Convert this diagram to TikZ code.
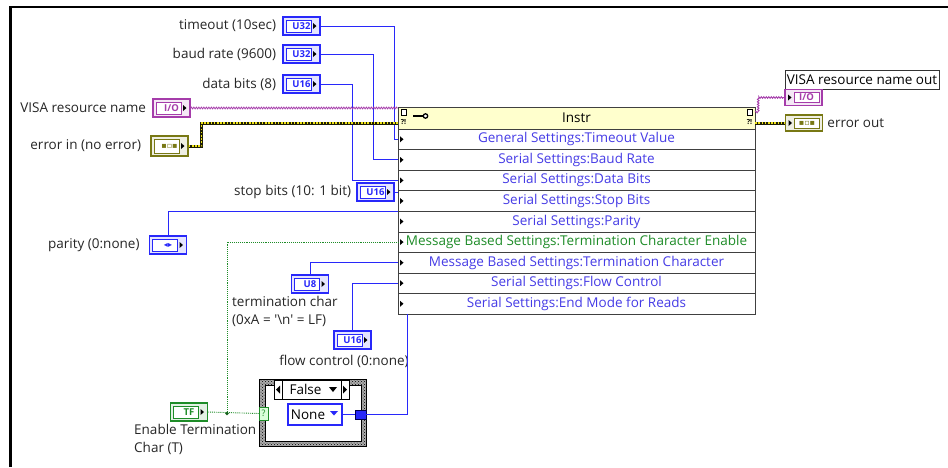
\documentclass[tikz,border=0pt]{standalone}
\usepackage{fontspec}
\setmainfont{Open Sans}
\newfontfamily\symfont{DejaVu Sans}
\usetikzlibrary{positioning,calc,patterns,decorations.pathmorphing}

\definecolor{lvblue}{RGB}{40,40,250}
\definecolor{lvtext}{RGB}{70,60,230}
\definecolor{lvpurple}{RGB}{165,60,170}
\definecolor{lvolive}{RGB}{120,120,20}
\definecolor{lvgreen}{RGB}{30,140,40}
\definecolor{hdrfill}{RGB}{255,255,205}

\newcommand\lvfont{\fontsize{13.5}{18}\selectfont}
\newcommand\tagfont{\fontsize{9.5}{10}\selectfont\bfseries}

\begin{document}
\begin{tikzpicture}[
  x=1pt, y=-1pt, font=\lvfont,
  lbl/.style={inner sep=0pt, text=black!85},
  ctl/.style={rectangle, draw=#1, fill=#1!12, line width=1.5pt,
    minimum width=37pt, minimum height=18pt, inner sep=0pt, text=#1, font=\tagfont,
    path picture={
      \draw[#1, line width=.7pt, fill=white]
        ([shift={(3pt,3pt)}]path picture bounding box.south west) rectangle
        ([shift={(-9pt,-3pt)}]path picture bounding box.north east);
      \fill[black] ([xshift=-7pt,yshift=3pt]path picture bounding box.east)
        -- ++(3.5pt,-3pt) -- ++(-3.5pt,-3pt) -- cycle;}},
  ind/.style={rectangle, draw=#1, fill=#1!12, line width=1.5pt,
    minimum width=37pt, minimum height=16pt, inner sep=0pt, text=#1, font=\tagfont,
    path picture={
      \draw[#1, line width=.7pt, fill=white]
        ([shift={(9pt,3pt)}]path picture bounding box.south west) rectangle
        ([shift={(-3pt,-3pt)}]path picture bounding box.north east);
      \fill[black] ([xshift=3pt,yshift=3pt]path picture bounding box.west)
        -- ++(3.5pt,-3pt) -- ++(-3.5pt,-3pt) -- cycle;}},
  row/.style={rectangle, draw=black!75, fill=white, minimum width=357pt,
    minimum height=20.56pt, inner sep=0pt,
    path picture={
      \fill[black] ([xshift=2pt,yshift=3pt]path picture bounding box.west)
        -- ++(3.5pt,-3pt) -- ++(-3.5pt,-3pt) -- cycle;}},
  numwire/.style={lvblue, line width=1pt},
  boolwire/.style={lvgreen, line width=.9pt, densely dotted},
  refwire/.style={lvpurple, line width=.9pt, decorate,
    decoration={zigzag, segment length=2.5pt, amplitude=.8pt}},
  errwire/.style={line width=3pt, draw=black!75!lvolive,
    postaction={draw=yellow!85!lvolive, line width=1.4pt, dash pattern=on 1.6pt off 1.6pt}},
]
\useasboundingbox (0,0) rectangle (948,467);
\draw[line width=2.5pt] (10.5,467) -- (10.5,7) -- (948,7);

% inputs on the left
\node[ctl=lvblue] (tmo) at (301.5,26) {U32\hspace{6pt}};
\node[ctl=lvblue] (baud) at (301.5,54) {U32\hspace{6pt}};
\node[ctl=lvblue] (dbits) at (301.5,84) {U16\hspace{6pt}};
\node[ctl=lvpurple] (visa) at (171.5,108) {I/O\hspace{6pt}};
\node[ctl=lvolive, minimum height=20pt] (errin) at (169.5,146) {{\symfont\footnotesize ▪▫▪}\hspace{6pt}};
\node[ctl=lvblue] (stopb) at (375.5,192) {U16\hspace{6pt}};
\node[ctl=lvblue] (par) at (168,245) {{\symfont\footnotesize ◂▸}\hspace{6pt}};
\node[ctl=lvblue] (tchar) at (310,284) {U8\hspace{6pt}};
\node[ctl=lvblue] (flow) at (352.5,340) {U16\hspace{6pt}};
\node[ctl=lvgreen] (tfen) at (189,412) {TF\hspace{6pt}};

\node[lbl, left=6pt of tmo] (tmoL) {timeout (10sec)};
\node[lbl, left=6pt of baud] (baudL) {baud rate (9600)};
\node[lbl, left=6pt of dbits] (dbitsL) {data bits (8)};
\node[lbl, left=6pt of visa] (visaL) {VISA resource name};
\node[lbl, left=9pt of errin] (errinL) {error in (no error)};
\node[lbl, left=5pt of stopb] (stopbL) {stop bits (10: 1 bit)};
\node[lbl, left=9pt of par] (parL) {parity (0:none)};
\node[lbl, anchor=north west, align=left] (tcharL) at (232,296)
  {termination char\\(0xA = \textquotesingle\textbackslash n\textquotesingle{} = LF)};
\node[lbl] (flowL) at (344,361) {flow control (0:none)};
\node[lbl, anchor=north west, align=left] (tfenL) at (134,424) {Enable Termination\\Char (T)};

% property node
\node[rectangle, draw=black!75, fill=hdrfill, minimum width=357pt, minimum height=22pt,
  inner sep=0pt] (hdr) at (576.5,118) {Instr};
\foreach \txt/\col [count=\i] in {
  General Settings:Timeout Value/lvtext,
  Serial Settings:Baud Rate/lvtext,
  Serial Settings:Data Bits/lvtext,
  Serial Settings:Stop Bits/lvtext,
  Serial Settings:Parity/lvtext,
  Message Based Settings:Termination Character Enable/lvgreen,
  Message Based Settings:Termination Character/lvtext,
  Serial Settings:Flow Control/lvtext,
  Serial Settings:End Mode for Reads/lvtext}
  \node[row, text=\col] (r\i) at (576.5,{129+(\i-0.5)*20.56}) {\txt};

% header icons
\draw[black, fill=white, line width=.6pt] (401,109) rectangle (406,115);
\node[font=\fontsize{7}{7}\selectfont\bfseries, inner sep=0pt] (qL) at (403.5,122.5) {?!};
\draw[line width=2.2pt] (413,116) -- (423,116);
\draw[line width=1.3pt, fill=white] (425.5,116) circle (2.2pt);
\draw[black, fill=white, line width=.6pt] (747,109) rectangle (752,115);
\node[font=\fontsize{7}{7}\selectfont\bfseries, inner sep=0pt] (qR) at (749.5,122.5) {?!};

% outputs on the right
\node[rectangle, draw=black!80, fill=white, inner sep=1.5pt, minimum height=19pt,
  minimum width=154pt] (visaoutL) at (862,79.5) {VISA resource name out};
\node[ind=lvpurple] (visaout) at (803.5,97.5) {\hspace{6pt}I/O};
\node[ind=lvolive] (errout) at (804,123) {\hspace{6pt}{\symfont\footnotesize ▪▫▪}};
\node[lbl, right=4pt of errout] (erroutL) {error out};

% case structure
\fill[gray!65] (259,379) rectangle (366,446);
\fill[pattern=crosshatch dots, pattern color=black] (259,379) rectangle (366,446);
\draw[black, fill=white] (265,385) rectangle (361,441);
\draw[black] (259,379) rectangle (366,446);
\node[rectangle, draw=black, fill=white, minimum width=75pt, minimum height=19pt,
  inner sep=0pt] (sel) at (311.5,389.5) {\hspace{-12pt}False};
\draw (282,380) -- (282,399) (341,380) -- (341,399);
\fill (280,385.5) -- (280,393.5) -- (276,389.5) -- cycle;
\fill (343,385.5) -- (343,393.5) -- (347,389.5) -- cycle;
\fill (329,387) -- (337,387) -- (333,392) -- cycle;
\node[rectangle, draw=lvblue, line width=1.3pt, fill=white, minimum width=54pt,
  minimum height=21pt, inner sep=0pt] (none) at (315,414.5) {\hspace{-14pt}None};
\fill[lvblue] (330,411) -- (338,411) -- (334,415.5) -- cycle;
\node[rectangle, draw=lvgreen, fill=green!15, minimum width=9pt, minimum height=13pt,
  inner sep=0pt, font=\fontsize{9}{9}\selectfont, text=lvgreen] (qsel) at (263.5,413.5) {?};
\node[rectangle, draw=black!70!blue, fill=lvblue, minimum width=11pt, minimum height=9pt,
  inner sep=0pt] (tun) at (360.5,414.5) {};

% wires
\draw[numwire] (tmo.east) -| ([xshift=-3pt]r1.west) -- (r1.west);
\draw[numwire] (baud.east) -| ([xshift=-24pt]r2.west) -- (r2.west);
\draw[numwire] (dbits.east) -| ([xshift=-45pt]r3.west) -- (r3.west);
\draw[numwire] (stopb.east) -- (stopb.east -| r4.west);
\draw[numwire] (par.north) |- (r5.north west);
\draw[numwire] (tchar.north) |- (r7.west);
\draw[numwire] (flow.north) |- (r8.west);
\draw[numwire] (none.east) -- (tun.west);
\draw[numwire] (tun.east) -| ([xshift=10pt]r9.south west);
\draw[refwire] (visa.east) -- (visa.east -| hdr.west);
\draw[errwire] (errin.east) -- ++(13,0) |- ([yshift=-5pt]hdr.west);
\draw[refwire] ([yshift=6pt]hdr.east) -- ++(3,0) |- (visaout.west);
\draw[errwire] ([yshift=-5pt]hdr.east) -- (errout.west);
\coordinate (jn) at (227,413.5);
\draw[boolwire] (tfen.east) -- (qsel.west);
\draw[boolwire] (jn) |- (r6.west);
\fill[lvgreen!70!black] (jn) circle (1.8pt);
\end{tikzpicture}
\end{document}
